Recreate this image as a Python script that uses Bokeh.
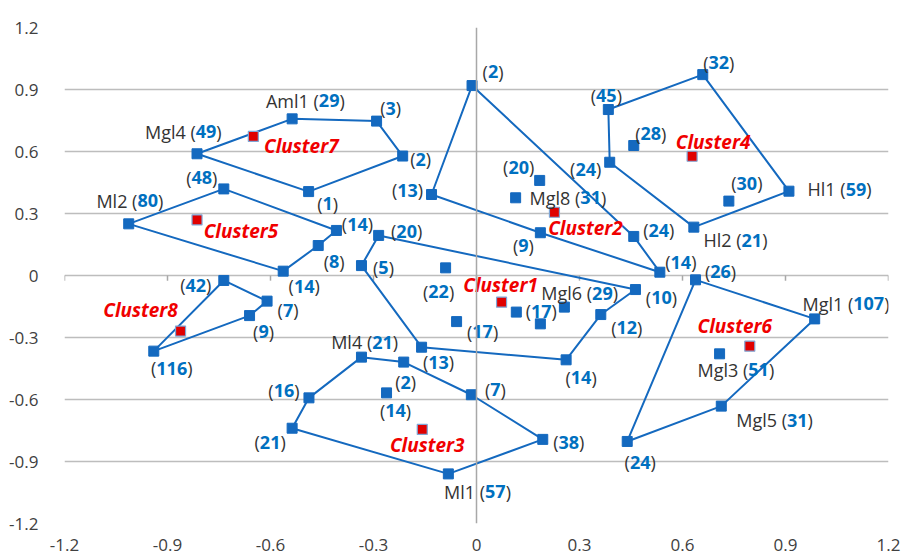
from bokeh.plotting import figure
from bokeh.models import ColumnDataSource, Span, FixedTicker, CustomJSTickFormatter
from bokeh.core.properties import value
from bokeh.embed import file_html
from bokeh.resources import INLINE

# ---------------- data ----------------
ticks = [-1.2, -0.9, -0.6, -0.3, 0.0, 0.3, 0.6, 0.9, 1.2]

cluster_names = ["Cluster1", "Cluster2", "Cluster3", "Cluster4",
                 "Cluster5", "Cluster6", "Cluster7", "Cluster8"]
centroid_x = [0.073, 0.227, -0.158, 0.628, -0.814, 0.796, -0.650, -0.862]
centroid_y = [-0.129, 0.306, -0.745, 0.577, 0.269, -0.342, 0.673, -0.269]

# points: cluster number, name, count, x, y, on hull (hull points listed in drawing order)
pt_cluster = [1, 1, 1, 1, 1, 1, 1, 1, 1, 1, 1,
              2, 2, 2, 2, 2, 2, 2,
              3, 3, 3, 3, 3, 3, 3, 3,
              4, 4, 4, 4, 4, 4, 4,
              5, 5, 5, 5, 5,
              6, 6, 6, 6, 6,
              7, 7, 7, 7, 7,
              8, 8, 8, 8]
pt_name = ["", "", "", "", "", "", "", "", "", "", "Mgl6",
           "", "", "", "", "", "", "Mgl8",
           "Ml4", "", "", "", "Ml1", "", "", "",
           "", "", "Hl1", "Hl2", "", "", "",
           "Ml2", "", "", "", "",
           "", "Mgl1", "Mgl5", "", "Mgl3",
           "Mgl4", "Aml1", "", "", "",
           "", "", "", ""]
pt_count = [20, 10, 12, 14, 13, 5, 22, 17, 17, None, 29,
            2, 13, 9, 14, 24, 20, 31,
            21, 2, 7, 38, 57, 21, 16, 14,
            45, 32, 59, 21, 24, 28, 30,
            80, 48, 14, 8, 14,
            26, 107, 31, 24, 51,
            49, 29, 3, 2, 1,
            42, 7, 9, 116]
pt_x = [-0.285, 0.463, 0.362, 0.261, -0.160, -0.335, -0.090, -0.058, 0.116, 0.186, 0.256,
        -0.013, -0.131, 0.186, 0.534, 0.458, 0.184, 0.114,
        -0.335, -0.212, -0.015, 0.193, -0.082, -0.537, -0.488, -0.262,
        0.384, 0.659, 0.910, 0.633, 0.388, 0.458, 0.735,
        -1.013, -0.736, -0.408, -0.461, -0.563,
        0.638, 0.985, 0.713, 0.439, 0.708,
        -0.814, -0.537, -0.291, -0.215, -0.489,
        -0.736, -0.610, -0.661, -0.940]
pt_y = [0.194, -0.068, -0.189, -0.408, -0.347, 0.048, 0.037, -0.223, -0.177, -0.234, -0.153,
        0.919, 0.392, 0.207, 0.016, 0.189, 0.460, 0.376,
        -0.395, -0.419, -0.577, -0.793, -0.960, -0.739, -0.592, -0.568,
        0.803, 0.972, 0.408, 0.234, 0.548, 0.629, 0.360,
        0.250, 0.419, 0.218, 0.145, 0.021,
        -0.021, -0.210, -0.632, -0.803, -0.379,
        0.589, 0.758, 0.747, 0.578, 0.406,
        -0.024, -0.124, -0.194, -0.366]
pt_hull = [1, 1, 1, 1, 1, 1, 0, 0, 0, 0, 0,
           1, 1, 1, 1, 1, 0, 0,
           1, 1, 1, 1, 1, 1, 1, 0,
           1, 1, 1, 1, 1, 0, 0,
           1, 1, 1, 1, 1,
           1, 1, 1, 1, 0,
           1, 1, 1, 1, 1,
           1, 1, 1, 1]

# ---------------- layout of labels (screen px offsets of the number's centre) ----------------
lab_dx = [28, 26, 26, 15, 17, 22, -7, 26, 25, 0, 38,
          21, -24, -17, 21, 25, -21, 75,
          21, 2, 24, 26, 47, -22, -25, 9,
          -2, 16, 67, 58, -24, 17, 18,
          19, -22, 21, 16, 21,
          25, 54, 76, 13, 39,
          9, 37, 14, 18, 19,
          -28, 21, 14, 18]
lab_dy = [-4, 8, 13, 18, 15, 2, 24, 10, -1, 0, -14,
          -14, -4, 13, -10, -6, -13, 0,
          -15, 20, -5, 3, 18, 14, -7, 18,
          -14, -12, -2, 13, 7, -12, -18,
          -23, -11, -6, 16, 15,
          -8, -15, 14, 21, 16,
          -22, -18, -13, 3, 12,
          5, 9, 16, 17]
cl_dx = [-1, 31, 5, 21, 44, -15, 48, -40]
cl_dy = [-17, 16, 16, -14, 11, -20, 10, -21]

BLUE = "#1469BF"
NUM_BLUE = "#0070C0"
RED = "#F00000"
DARK = "#333333"
FONT = "Open Sans"
FS = 18
DIGIT_W = 0.572 * FS

p = figure(width=904, height=560, x_range=(-1.2, 1.2), y_range=(-1.2, 1.2),
           output_backend="svg", toolbar_location=None,
           min_border_left=64, min_border_right=16, min_border_top=27, min_border_bottom=37)
p.outline_line_color = None
p.background_fill_color = "white"
p.border_fill_color = "white"

for ax in (p.xaxis[0], p.yaxis[0]):
    ax.ticker = FixedTicker(ticks=ticks)
    ax.formatter = CustomJSTickFormatter(code="return tick.toFixed(1).replace(/\\.0$/, '');")
    ax.axis_line_color = None
    ax.major_tick_line_color = None
    ax.minor_tick_line_color = None
    ax.major_label_text_font = FONT
    ax.major_label_text_font_size = "17px"
    ax.major_label_text_color = "#404040"
p.xaxis.major_label_standoff = 9
p.yaxis.major_label_standoff = 20

p.xgrid.grid_line_color = None
p.ygrid.ticker = FixedTicker(ticks=ticks)
p.ygrid.grid_line_color = "#bdbdbd"
p.ygrid.grid_line_width = 1.6

p.add_layout(Span(location=0, dimension="height", line_color="#a8a8a8", line_width=1.5))
p.segment(x0=ticks, y0=[0] * len(ticks), x1=ticks, y1=[-0.025] * len(ticks),
          line_color="#a8a8a8", line_width=1.5)

# hull polygons
hull_xs, hull_ys = [], []
for c in range(1, 9):
    hull_xs.append([x for x, k, h in zip(pt_x, pt_cluster, pt_hull) if k == c and h])
    hull_ys.append([y for y, k, h in zip(pt_y, pt_cluster, pt_hull) if k == c and h])
p.patches(xs=hull_xs, ys=hull_ys, fill_color=None, line_color=BLUE, line_width=2)

p.scatter(x=pt_x, y=pt_y, marker="square", size=10, fill_color=BLUE, line_color=BLUE)
p.scatter(x=centroid_x, y=centroid_y, marker="square", size=10,
          fill_color="#E00000", line_color="#7FA6D6", line_width=1.2)

# labels: "name (" in dark, count in bold blue, ")" in dark
pre = dict(x=[], y=[], t=[], dx=[], dy=[])
num = dict(x=[], y=[], t=[], dx=[], dy=[])
suf = dict(x=[], y=[], t=[], dx=[], dy=[])
for x, y, nm, n, dx, dy in zip(pt_x, pt_y, pt_name, pt_count, lab_dx, lab_dy):
    if n is None:
        continue
    s = str(n)
    half = len(s) * DIGIT_W / 2
    pre["x"].append(x); pre["y"].append(y); pre["t"].append((nm + " (") if nm else "(")
    pre["dx"].append(dx - half); pre["dy"].append(dy)
    num["x"].append(x); num["y"].append(y); num["t"].append(s)
    num["dx"].append(dx); num["dy"].append(dy)
    suf["x"].append(x); suf["y"].append(y); suf["t"].append(")")
    suf["dx"].append(dx + half); suf["dy"].append(dy)

p.text(x="x", y="y", text="t", x_offset="dx", y_offset="dy", source=ColumnDataSource(pre),
       text_align="right", text_baseline="middle", text_font=value(FONT),
       text_font_size=f"{FS}px", text_color=DARK)
p.text(x="x", y="y", text="t", x_offset="dx", y_offset="dy", source=ColumnDataSource(num),
       text_align="center", text_baseline="middle", text_font=value(FONT),
       text_font_size=f"{FS}px", text_font_style="bold", text_color=NUM_BLUE)
p.text(x="x", y="y", text="t", x_offset="dx", y_offset="dy", source=ColumnDataSource(suf),
       text_align="left", text_baseline="middle", text_font=value(FONT),
       text_font_size=f"{FS}px", text_color=DARK)

p.text(x=centroid_x, y=centroid_y, text=cluster_names, x_offset=cl_dx, y_offset=cl_dy,
       text_align="center", text_baseline="middle", text_font=value(FONT),
       text_font_size="19px", text_font_style="bold italic", text_color=RED)

open("out.html", "w").write(file_html(p, INLINE))
